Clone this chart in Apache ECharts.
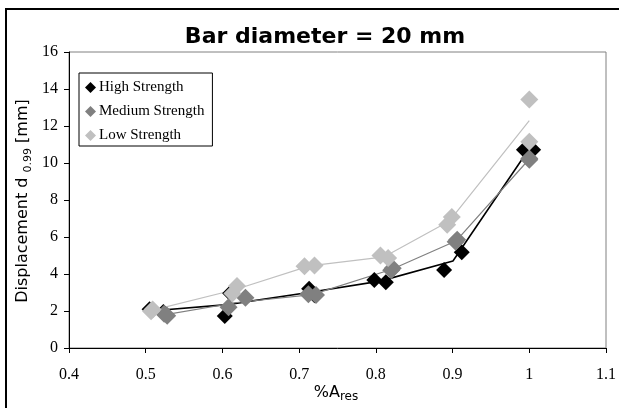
<!DOCTYPE html>
<html>
<head>
<meta charset="utf-8">
<script src="https://cdn.jsdelivr.net/npm/echarts@6/dist/echarts.min.js"></script>
<style>
  html, body { margin: 0; padding: 0; background: #fff; }
  #chart { width: 619px; height: 408px; }
</style>
</head>
<body>
<div id="chart"></div>
<script>
// Specimens per reinforcement group, listed in pairs: [%A_res, d0.99 in mm]
const highStrength = [
  [0.505, 2.10], [0.523, 1.95],
  [0.603, 1.73], [0.610, 2.96],
  [0.713, 3.20], [0.720, 2.85],
  [0.798, 3.68], [0.813, 3.55],
  [0.889, 4.22], [0.912, 5.18],
  [0.993, 10.72], [1.005, 10.72]
];
const mediumStrength = [
  [0.528, 1.75], [0.524, 1.85],
  [0.608, 2.20], [0.630, 2.72],
  [0.712, 2.90], [0.722, 2.87],
  [0.822, 4.31], [0.820, 4.20],
  [0.906, 5.85], [0.904, 5.75],
  [1.000, 10.18], [1.000, 10.25]
];
const lowStrength = [
  [0.509, 2.08], [0.507, 1.98],
  [0.619, 3.35], [0.613, 2.95],
  [0.707, 4.42], [0.720, 4.46],
  [0.806, 5.00], [0.816, 4.86],
  [0.899, 7.08], [0.893, 6.66],
  [1.000, 13.43], [1.000, 11.15]
];

const seriesNames = ['High Strength', 'Medium Strength', 'Low Strength'];
const xRange = [0.4, 1.1];
const yRange = [0, 16];

// Mean of each pair of specimens, joined as the trend line of a series
function pairMeans(pts) {
  const out = [];
  for (let i = 0; i < pts.length; i += 2) {
    out.push([(pts[i][0] + pts[i + 1][0]) / 2, (pts[i][1] + pts[i + 1][1]) / 2]);
  }
  return out;
}

const colors = ['#000000', '#808080', '#c0c0c0'];
const sets = [highStrength, mediumStrength, lowStrength];
const markerSizes = [16, 18, 18];
const lineWidths = [1.6, 1.2, 1.2];

const serif = '"Liberation Serif", "DejaVu Serif", serif';
const sans = '"DejaVu Sans", "Liberation Sans", sans-serif';

const series = [];
sets.forEach((pts, i) => {
  series.push({
    name: seriesNames[i] + ' mean',
    type: 'line',
    data: pairMeans(pts),
    showSymbol: false,
    symbol: 'none',
    lineStyle: { color: colors[i], width: lineWidths[i] },
    z: 2,
    silent: true
  });
});
sets.forEach((pts, i) => {
  series.push({
    name: seriesNames[i],
    type: 'scatter',
    data: pts,
    symbol: 'diamond',
    symbolSize: markerSizes[i],
    itemStyle: { color: colors[i], opacity: 1 },
    z: 3 + i
  });
});

const chart = echarts.init(document.getElementById('chart'), null, { renderer: 'canvas' });
chart.setOption({
  animation: false,
  backgroundColor: '#ffffff',
  title: {
    text: 'Bar diameter = 20 mm',
    left: 320,
    top: 21,
    textAlign: 'center',
    textStyle: { fontFamily: sans, fontWeight: 'bold', fontSize: 22, color: '#000' }
  },
  grid: {
    left: 69, right: 9, top: 52, bottom: 60,
    show: true, borderColor: '#808080', borderWidth: 1, backgroundColor: '#fff'
  },
  legend: {
    data: seriesNames,
    orient: 'vertical',
    left: 79,
    top: 73,
    icon: 'diamond',
    itemWidth: 11,
    itemHeight: 11,
    itemGap: 9,
    padding: [7, 8, 3, 6],
    backgroundColor: '#fff',
    borderColor: '#000',
    borderWidth: 1,
    borderRadius: 0,
    textStyle: { fontFamily: serif, fontSize: 15, color: '#000', padding: [0, 0, 0, -2] }
  },
  xAxis: {
    type: 'value',
    min: xRange[0], max: xRange[1], interval: 0.1,
    axisLine: { show: true, lineStyle: { color: '#000', width: 1 } },
    axisTick: { show: true, inside: false, length: 5, lineStyle: { color: '#000' } },
    splitLine: { show: false },
    axisLabel: {
      margin: 19,
      fontFamily: serif, fontSize: 16, color: '#000',
      formatter: v => String(+v.toFixed(1))
    }
  },
  yAxis: {
    type: 'value',
    min: yRange[0], max: yRange[1], interval: 2,
    axisLine: { show: true, lineStyle: { color: '#000', width: 1 } },
    axisTick: { show: true, inside: false, length: 5, lineStyle: { color: '#000' } },
    splitLine: { show: false },
    axisLabel: { margin: 11, fontFamily: serif, fontSize: 16, color: '#000' }
  },
  graphic: [
    {
      type: 'rect',
      shape: { x: 6, y: 9, width: 700, height: 500 },
      style: { fill: 'none', stroke: '#000', lineWidth: 2 },
      silent: true, z: 100
    },
    {
      type: 'text',
      x: 23, y: 201,
      rotation: Math.PI / 2,
      style: {
        text: '{a|Displacement d }{s|0.99}{a| [mm]}',
        align: 'center',
        verticalAlign: 'middle',
        fill: '#000',
        rich: {
          a: { fontFamily: sans, fontSize: 16, color: '#000', lineHeight: 22 },
          s: { fontFamily: sans, fontSize: 11, color: '#000', verticalAlign: 'bottom', lineHeight: 14 }
        }
      },
      z: 100
    },
    {
      type: 'text',
      x: 336, y: 393,
      style: {
        text: '{a|%A}{s|res}',
        align: 'center',
        verticalAlign: 'middle',
        fill: '#000',
        rich: {
          a: { fontFamily: sans, fontSize: 16, color: '#000', lineHeight: 20 },
          s: { fontFamily: sans, fontSize: 12, color: '#000', verticalAlign: 'bottom', lineHeight: 13 }
        }
      },
      z: 100
    }
  ],
  series: series
});
</script>
</body>
</html>
